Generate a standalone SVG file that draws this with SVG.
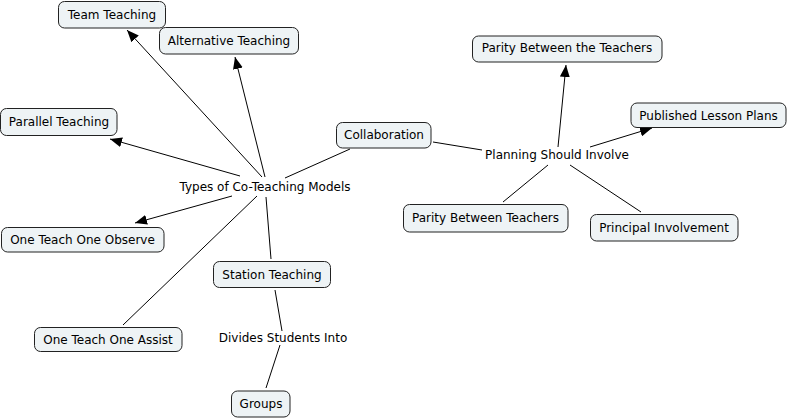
<svg xmlns="http://www.w3.org/2000/svg" width="788" height="419" viewBox="0 0 788 419">
<style>
.box{fill:#eef3f5;stroke:#222;stroke-width:1}
text{font-family:"DejaVu Sans",Verdana,sans-serif;font-size:12px;fill:#000;text-anchor:middle}
.ln{stroke:#000;stroke-width:1;fill:none}
.ar{stroke:#000;stroke-width:1;fill:none;marker-end:url(#arr)}
</style>
<defs>
<marker id="arr" viewBox="0 0 12 10" refX="12" refY="5" markerWidth="12" markerHeight="10" markerUnits="userSpaceOnUse" orient="auto">
<path d="M0,0 L12,5 L0,10 z" fill="#000"/>
</marker>
</defs>
<rect width="788" height="419" fill="#fff"/>
<g id="connectors">
<line class="ar" x1="262" y1="177" x2="127" y2="30"/>
<line class="ar" x1="265" y1="177" x2="235" y2="57"/>
<line class="ar" x1="240" y1="176" x2="110" y2="139"/>
<line class="ar" x1="232" y1="196" x2="135" y2="223"/>
<line class="ln" x1="257" y1="196" x2="123" y2="325"/>
<line class="ln" x1="266" y1="197" x2="271" y2="259"/>
<line class="ln" x1="285" y1="178" x2="350" y2="149"/>
<line class="ln" x1="433" y1="142" x2="482" y2="150"/>
<line class="ar" x1="558" y1="147" x2="566" y2="65"/>
<line class="ar" x1="590" y1="147" x2="652" y2="128"/>
<line class="ln" x1="548" y1="165" x2="503" y2="202"/>
<line class="ln" x1="570" y1="165" x2="641" y2="212"/>
<line class="ln" x1="275" y1="290" x2="282" y2="331"/>
<line class="ln" x1="280" y1="345" x2="266" y2="388"/>
</g>
<g id="team-teaching"><rect class="box" x="58.5" y="1.5" width="107" height="26.5" rx="6"/><text x="112" y="19">Team Teaching</text></g>
<g id="alternative-teaching"><rect class="box" x="159.5" y="27.5" width="139" height="26.5" rx="6"/><text x="229" y="45">Alternative Teaching</text></g>
<g id="parallel-teaching"><rect class="box" x="0.5" y="108.5" width="116.5" height="27" rx="6"/><text x="59" y="126">Parallel Teaching</text></g>
<g id="one-teach-one-observe"><rect class="box" x="1.5" y="227.5" width="162.5" height="24.5" rx="6"/><text x="82.5" y="244">One Teach One Observe</text></g>
<g id="station-teaching"><rect class="box" x="213.5" y="261.5" width="117" height="26" rx="6"/><text x="272" y="278.5">Station Teaching</text></g>
<g id="one-teach-one-assist"><rect class="box" x="34.5" y="327.5" width="147.5" height="24" rx="6"/><text x="108" y="343.5">One Teach One Assist</text></g>
<g id="groups"><rect class="box" x="231.5" y="391" width="58.5" height="26" rx="6"/><text x="261" y="408">Groups</text></g>
<g id="types-models"><text x="265" y="191">Types of Co-Teaching Models</text></g>
<g id="divides-students"><text x="283" y="342">Divides Students Into</text></g>
<g id="collaboration"><rect class="box" x="336.5" y="122.5" width="94.5" height="25.5" rx="6"/><text x="384" y="139">Collaboration</text></g>
<g id="planning"><text x="557" y="159">Planning Should Involve</text></g>
<g id="parity-the-teachers"><rect class="box" x="472.5" y="36" width="189.5" height="26" rx="6"/><text x="567" y="52">Parity Between the Teachers</text></g>
<g id="published-lesson-plans"><rect class="box" x="631" y="103" width="155" height="24.5" rx="6"/><text x="708.5" y="119.5">Published Lesson Plans</text></g>
<g id="parity-teachers"><rect class="box" x="403.5" y="204.5" width="164.5" height="27.5" rx="6"/><text x="485.5" y="222">Parity Between Teachers</text></g>
<g id="principal-involvement"><rect class="box" x="590.5" y="214.5" width="147.5" height="26.5" rx="6"/><text x="664" y="232">Principal Involvement</text></g>
</svg>
